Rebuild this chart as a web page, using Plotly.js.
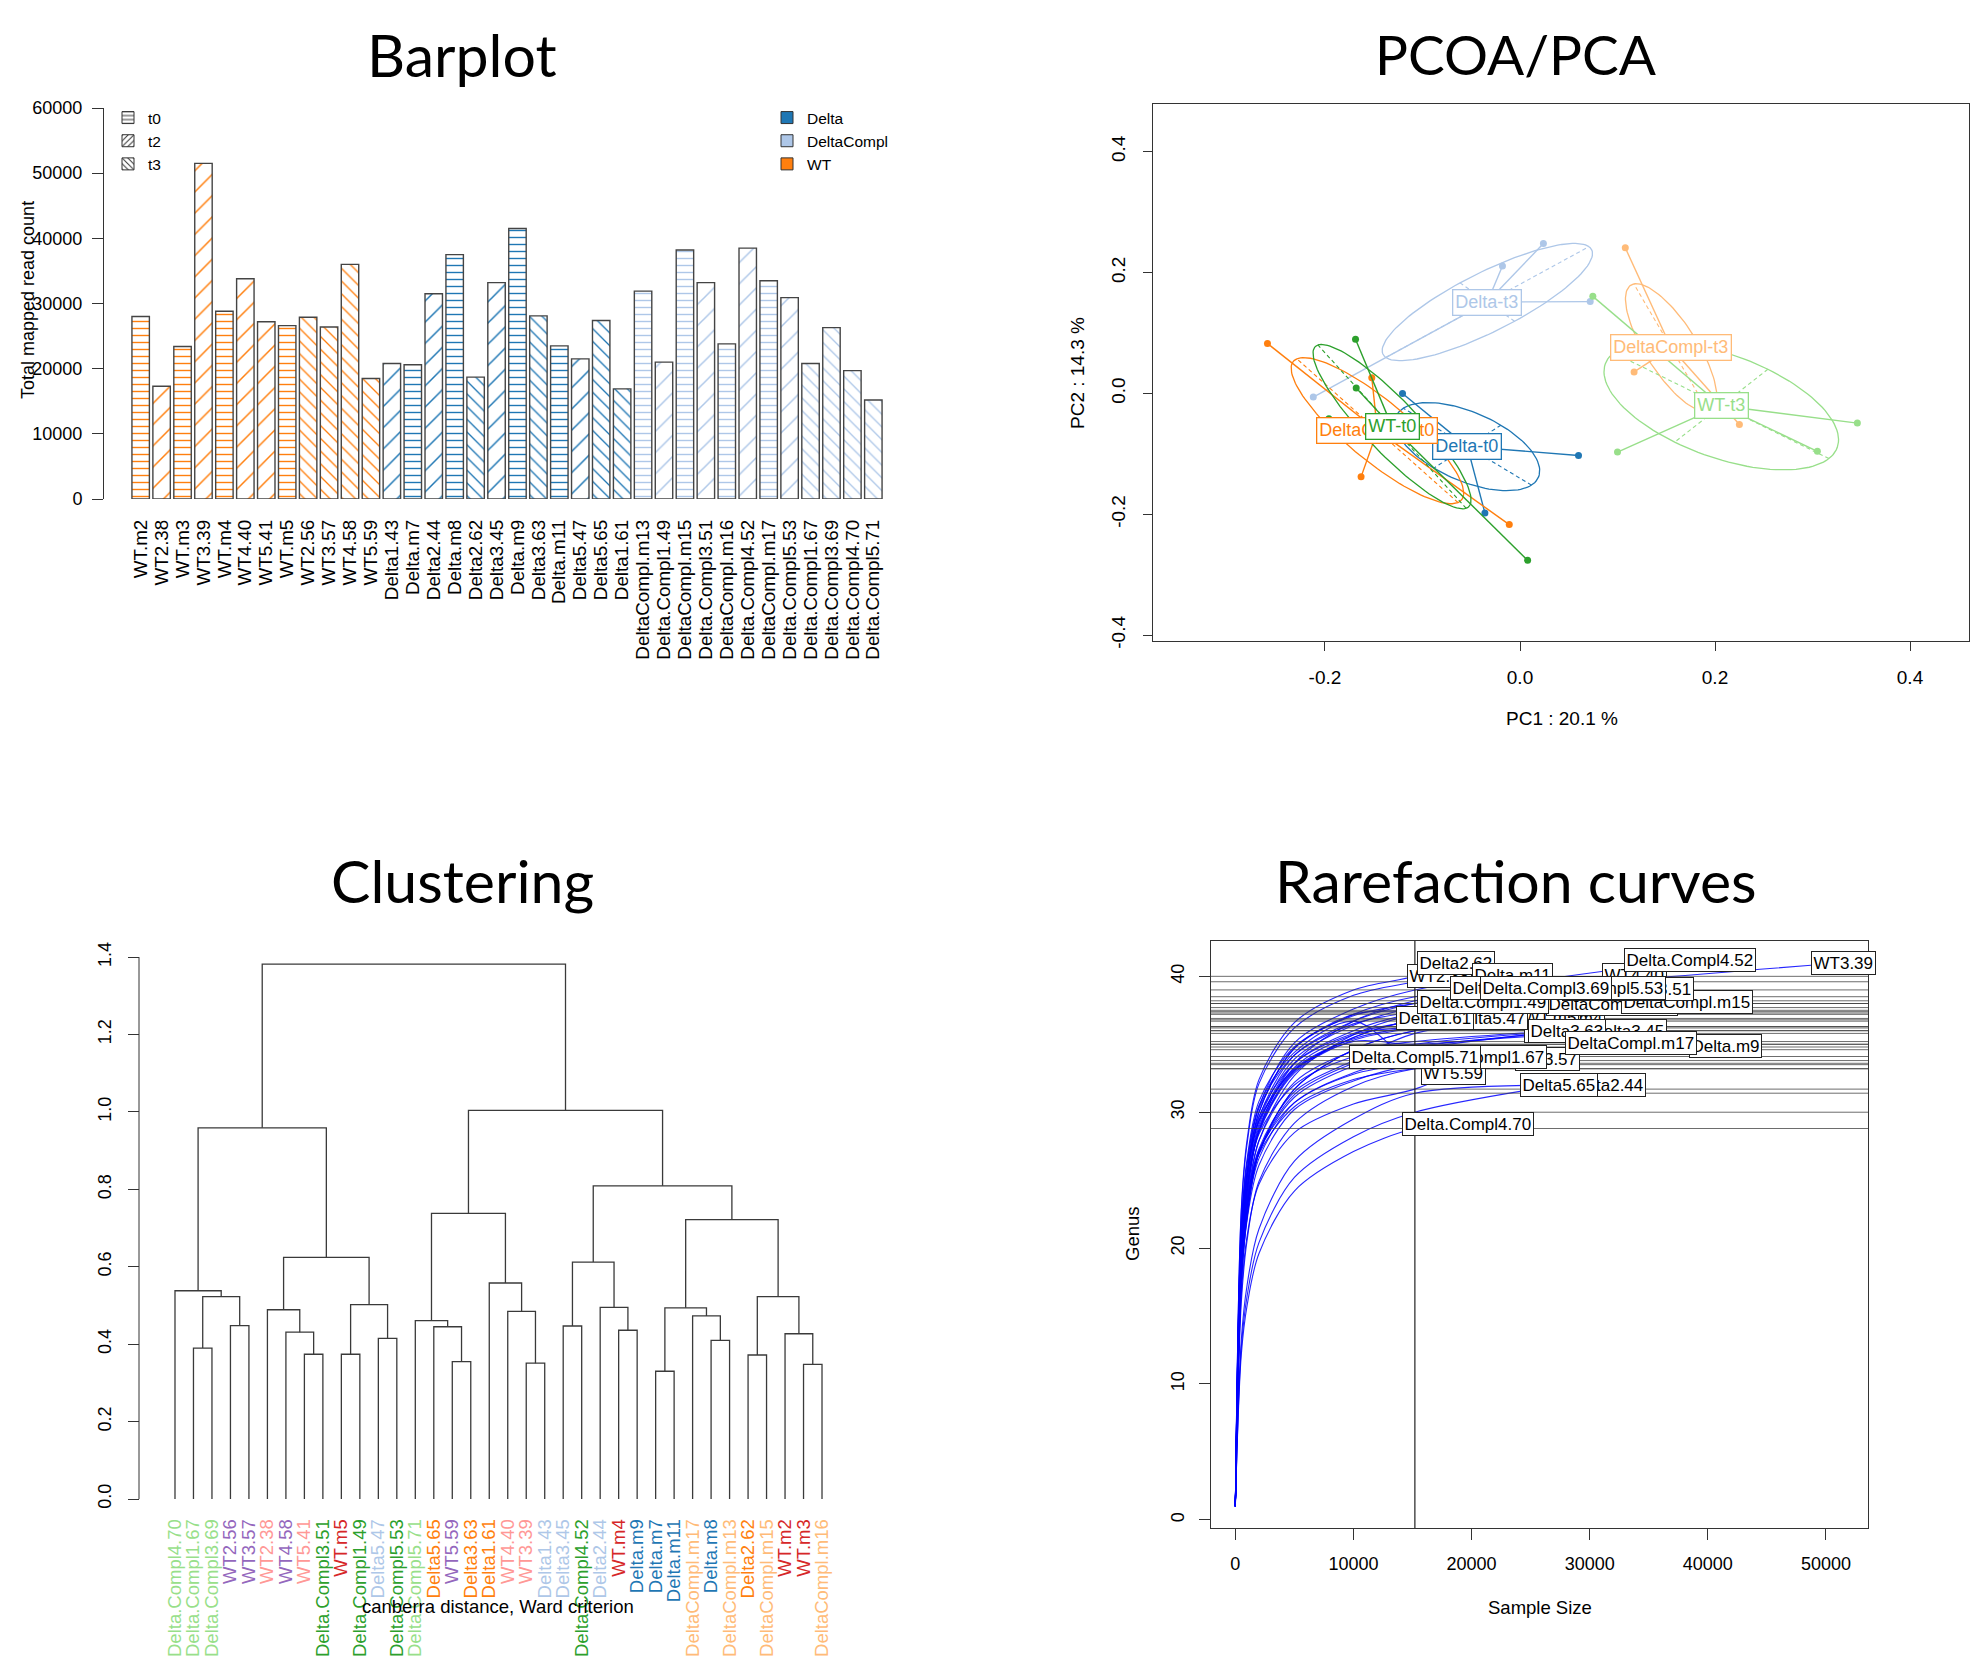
<!DOCTYPE html>
<html><head><meta charset="utf-8">
<script src="https://cdn.plot.ly/plotly-3.0.1.min.js"></script>
<style>html,body{margin:0;padding:0;background:#fff}#chart{width:1972px;height:1660px}</style>
</head><body><div id="chart"></div>
<script>
// ---------------- DATA ----------------
const sampleNames = ['WT.m2','WT2.38','WT.m3','WT3.39','WT.m4','WT4.40','WT5.41','WT.m5','WT2.56','WT3.57','WT4.58','WT5.59',
 'Delta1.43','Delta.m7','Delta2.44','Delta.m8','Delta2.62','Delta3.45','Delta.m9','Delta3.63','Delta.m11','Delta5.47','Delta5.65','Delta1.61',
 'DeltaCompl.m13','Delta.Compl1.49','DeltaCompl.m15','Delta.Compl3.51','DeltaCompl.m16','Delta.Compl4.52','DeltaCompl.m17','Delta.Compl5.53','Delta.Compl1.67','Delta.Compl3.69','Delta.Compl4.70','Delta.Compl5.71'];
const sampleGroup = ['WT','WT','WT','WT','WT','WT','WT','WT','WT','WT','WT','WT',
 'Delta','Delta','Delta','Delta','Delta','Delta','Delta','Delta','Delta','Delta','Delta','Delta',
 'DeltaCompl','DeltaCompl','DeltaCompl','DeltaCompl','DeltaCompl','DeltaCompl','DeltaCompl','DeltaCompl','DeltaCompl','DeltaCompl','DeltaCompl','DeltaCompl'];
const sampleTime = ['t0','t2','t0','t2','t0','t2','t2','t0','t3','t3','t3','t3',
 't2','t0','t2','t0','t3','t2','t0','t3','t0','t2','t3','t3',
 't0','t2','t0','t2','t0','t2','t0','t2','t3','t3','t3','t3'];
const readCounts = [28000,17300,23400,51500,28800,33800,27200,26600,27900,26400,36000,18500,
 20800,20600,31500,37500,18700,33200,41500,28100,23500,21500,27400,16900,
 31900,21000,38200,33200,23800,38500,33500,30900,20800,26300,19700,15200];
const barYTicks = [0,10000,20000,30000,40000,50000,60000];
const timeLevels = ['t0','t2','t3'];
const groupLevels = ['Delta','DeltaCompl','WT'];

// PCA (s.class) points
const pcaGroups = ['Delta-t0','Delta-t3','DeltaCompl-t0','DeltaCompl-t3','WT-t0','WT-t3'];
const pcaPointGroup = ['Delta-t0','Delta-t0','Delta-t0','Delta-t0','Delta-t3','Delta-t3','Delta-t3','Delta-t3',
 'DeltaCompl-t0','DeltaCompl-t0','DeltaCompl-t0','DeltaCompl-t0','DeltaCompl-t3','DeltaCompl-t3','DeltaCompl-t3','DeltaCompl-t3',
 'WT-t0','WT-t0','WT-t0','WT-t0','WT-t3','WT-t3','WT-t3','WT-t3'];
const pcaPC1 = [-0.1205,0.060,-0.036,-0.1195, 0.024,-0.018,0.072,-0.212,
 -0.259,-0.152,-0.163,-0.011, 0.108,0.117,0.225,0.170,
 -0.1687,-0.168,-0.196,0.0078, 0.0747,0.100,0.305,0.346];
const pcaPC2 = [0.000,-0.1026,-0.1976,-0.0518, 0.248,0.211,0.152,-0.006,
 0.0827,0.026,-0.138,-0.217, 0.241,0.0356,-0.0513,0.077,
 0.0896,0.0089,-0.042,-0.276, 0.1607,-0.097,-0.0957,-0.049];
const pcaXTicks = [-0.2,0.0,0.2,0.4];
const pcaYTicks = [-0.4,-0.2,0.0,0.2,0.4];

// Dendrogram (hclust style merges, leaves numbered in plotting order)
const leafNames = ['Delta.Compl4.70','Delta.Compl1.67','Delta.Compl3.69','WT2.56','WT3.57','WT2.38','WT4.58','WT5.41','Delta.Compl3.51','WT.m5','Delta.Compl1.49','Delta5.47',
 'Delta.Compl5.53','Delta.Compl5.71','Delta5.65','WT5.59','Delta3.63','Delta1.61','WT4.40','WT3.39','Delta1.43','Delta3.45','Delta.Compl4.52','Delta2.44',
 'WT.m4','Delta.m9','Delta.m7','Delta.m11','DeltaCompl.m17','Delta.m8','DeltaCompl.m13','Delta2.62','DeltaCompl.m15','WT.m2','WT.m3','DeltaCompl.m16'];
const mergeA = [-2,-4,1,-1,-8,-7,-6,-10,-12,8,7,4,-16,-15,-14,-20,-19,-18,15,-22,-25,-24,20,-27,-30,-29,24,-32,-35,-34,28,27,23,19,12];
const mergeB = [-3,-5,2,3,-9,5,6,-11,-13,9,10,11,-17,13,14,-21,16,17,18,-23,-26,21,22,-28,-31,25,26,-33,-36,29,30,31,32,33,34];
const mergeH = [0.390,0.448,0.523,0.538,0.374,0.431,0.489,0.374,0.415,0.502,0.624,0.959,0.355,0.445,0.461,0.351,0.485,0.558,0.738,
 0.447,0.436,0.495,0.612,0.330,0.410,0.473,0.494,0.372,0.348,0.427,0.523,0.722,0.809,1.004,1.382];
const dendroYTicks = [0,0.2,0.4,0.6,0.8,1.0,1.2,1.4];

// Rarefaction: genus richness read at sub-sample sizes (same sample order as the barplot)
const rareSizes = [1,500,1000,2000,5000,10000,15200];
const rare1 = new Array(36).fill(1);
const rare500 = [19.0,22.6,19.2,19.8,17.3,20.0,18.6,20.7,18.0,18.9,17.9,16.5,21.4,20.0,13.2,18.2,22.8,18.1,15.9,20.0,20.3,20.6,12.6,20.9,19.1,21.3,17.3,19.4,19.0,18.3,17.4,19.6,19.2,21.7,12.1,17.7];
const rare1000 = [24.1,27.7,24.4,25.1,22.3,25.4,23.6,25.4,22.8,23.2,23.1,20.9,26.3,25.4,17.3,23.1,28.0,23.0,20.6,24.5,25.7,25.3,16.5,25.7,24.3,26.2,22.3,24.6,24.1,23.7,22.1,24.9,23.5,26.6,15.8,22.5];
const rare2000 = [28.5,32.1,28.9,29.6,27.0,30.0,27.9,29.4,27.0,26.9,27.9,24.7,30.5,30.0,21.4,27.3,32.4,27.1,24.9,28.4,30.4,29.3,20.4,29.7,28.7,30.3,27.0,29.1,28.6,28.7,26.1,29.4,27.2,30.8,19.6,26.6];
const rare5000 = [32.9,36.2,33.3,34.2,31.7,34.7,32.2,33.2,31.1,30.4,32.7,28.5,34.4,34.7,26.4,31.5,36.6,31.3,29.2,32.0,35.1,33.1,25.2,33.6,33.1,34.2,31.7,33.6,33.0,33.6,30.2,33.9,30.7,34.8,24.2,30.7];
const rare10000 = [35.2,38.6,35.7,36.7,34.6,37.2,34.5,35.4,33.4,32.4,35.7,30.6,36.7,37.2,29.5,33.8,39.0,33.6,31.9,34.1,37.6,35.3,28.2,35.8,35.5,36.5,34.6,36.0,35.5,36.7,32.3,36.4,32.8,37.1,27.1,32.9];
const rare15200 = [35.0,39.6,36.3,38.0,36.0,38.5,35.2,36.3,34.6,33.2,37.2,31.7,33.8,37.5,31.4,35.8,40.0,34.8,33.2,35.0,39.0,36.2,30.0,36.7,36.8,37.4,36.0,37.3,36.9,38.2,33.5,37.7,33.6,38.0,28.8,34.1];
const rareFinal = [36.0,40.0,36.9,41.0,36.9,40.1,36.0,37.0,36.0,33.9,39.0,32.9,34.1,38.1,32.0,38.1,41.0,36.0,34.9,36.0,40.1,36.9,32.0,36.9,38.0,38.1,38.1,39.1,39.15,41.2,35.1,39.15,34.1,39.15,29.15,34.1];
const rareSubsample = 15200;
const rareXTicks = [0,10000,20000,30000,40000,50000];
const rareYTicks = [0,10,20,30,40];

// ---------------- STYLE ----------------
const W = 1972, H = 1660;
const px = v => v / W, py = v => 1 - v / H;
const FONT = 'Liberation Sans, Arial, sans-serif';
const AX = '#333';
const groupColor = {Delta:'#1f77b4', DeltaCompl:'#aec7e8', WT:'#ff7f0e'};
const timeShape = {t0:'-', t2:'/', t3:'\\'};
const timeSize = {t0:7, t2:15, t3:9};
const timeSolid = {t0:0.2, t2:0.1, t3:0.15};
const pcaColor = {'Delta-t0':'#1f77b4','Delta-t3':'#aec7e8','DeltaCompl-t0':'#ff7f0e','DeltaCompl-t3':'#ffbb78','WT-t0':'#2ca02c','WT-t3':'#98df8a'};
const leafColor = {'Delta-t0':'#1f77b4','Delta-t2':'#aec7e8','Delta-t3':'#ff7f0e','DeltaCompl-t0':'#ffbb78','DeltaCompl-t2':'#2ca02c','DeltaCompl-t3':'#98df8a',
  'WT-t0':'#d62728','WT-t2':'#ff9896','WT-t3':'#9467bd'};

const traces = [];
const annotations = [];
const shapes = [];

// ---------------- BARPLOT ----------------
traces.push({
  type:'bar', x: sampleNames, y: readCounts, xaxis:'x', yaxis:'y', showlegend:false, hoverinfo:'skip',
  marker:{color:'white', line:{color:'#444', width:1.4},
    pattern:{shape: sampleTime.map(t=>timeShape[t]), fgcolor: sampleGroup.map(g=>groupColor[g]),
      size: sampleTime.map(t=>timeSize[t]), solidity: sampleTime.map(t=>timeSolid[t]), fillmode:'replace'}}
});
timeLevels.forEach(t => traces.push({type:'bar', x:[null], y:[null], xaxis:'x', yaxis:'y', name:t, legend:'legend',
  marker:{color:'white', line:{color:'#333', width:1}, pattern:{shape:timeShape[t], fgcolor:'#333', size:5, solidity:0.25}}}));
groupLevels.forEach(g => traces.push({type:'bar', x:[null], y:[null], xaxis:'x', yaxis:'y', name:g, legend:'legend2',
  marker:{color:groupColor[g], line:{color:'#333', width:1}}}));

// ---------------- PCA ----------------
pcaGroups.forEach(g => {
  const xs = [], ys = [];
  pcaPointGroup.forEach((pg,i) => { if (pg === g) { xs.push(pcaPC1[i]); ys.push(pcaPC2[i]); } });
  const n = xs.length;
  const mx = xs.reduce((a,b)=>a+b,0)/n, my = ys.reduce((a,b)=>a+b,0)/n;
  let sxx=0, syy=0, sxy=0;
  for (let i=0;i<n;i++){ sxx+=(xs[i]-mx)**2; syy+=(ys[i]-my)**2; sxy+=(xs[i]-mx)*(ys[i]-my); }
  sxx/=n; syy/=n; sxy/=n;
  const tr = sxx+syy, det = sxx*syy-sxy*sxy, disc = Math.sqrt(Math.max(tr*tr/4-det,0));
  const l1 = tr/2+disc, l2 = Math.max(tr/2-disc,0);
  const ang = Math.atan2(l1-sxx, sxy);
  const a = Math.sqrt(l1), b = Math.sqrt(l2);
  const ux=a*Math.cos(ang), uy=a*Math.sin(ang), vx=-b*Math.sin(ang), vy=b*Math.cos(ang);
  const ex=[], ey=[];
  for (let k=0;k<=120;k++){ const t=2*Math.PI*k/120; ex.push(mx+ux*Math.cos(t)+vx*Math.sin(t)); ey.push(my+uy*Math.cos(t)+vy*Math.sin(t)); }
  const c = pcaColor[g];
  traces.push({type:'scatter', mode:'lines', x:ex, y:ey, xaxis:'x2', yaxis:'y2', showlegend:false, hoverinfo:'skip', line:{color:c, width:1.3}});
  traces.push({type:'scatter', mode:'lines', x:[mx-ux,mx+ux,null,mx-vx,mx+vx], y:[my-uy,my+uy,null,my-vy,my+vy], xaxis:'x2', yaxis:'y2',
    showlegend:false, hoverinfo:'skip', line:{color:c, width:1.1, dash:'4px,3px'}});
  const sx=[], sy=[];
  for (let i=0;i<n;i++){ sx.push(xs[i], mx, null); sy.push(ys[i], my, null); }
  traces.push({type:'scatter', mode:'lines', x:sx, y:sy, xaxis:'x2', yaxis:'y2', showlegend:false, hoverinfo:'skip', line:{color:c, width:1.4}});
  traces.push({type:'scatter', mode:'markers', x:xs, y:ys, xaxis:'x2', yaxis:'y2', showlegend:false, hoverinfo:'skip', marker:{color:c, size:7}});
  annotations.push({xref:'x2', yref:'y2', x:mx, y:my, text:g, showarrow:false, font:{family:FONT, size:18, color:c},
    bgcolor:'white', bordercolor:c, borderwidth:1.3, borderpad:2});
});

// ---------------- DENDROGRAM ----------------
{
  const nodeX = [], nodeH = [];
  const pos = k => k < 0 ? [-k, 0] : [nodeX[k-1], nodeH[k-1]];
  const dx = [], dy = [];
  for (let i=0;i<mergeA.length;i++){
    const [x1,h1] = pos(mergeA[i]), [x2,h2] = pos(mergeB[i]), h = mergeH[i];
    nodeX.push((x1+x2)/2); nodeH.push(h);
    dx.push(x1,x1,x2,x2,null); dy.push(h1,h,h,h2,null);
  }
  traces.push({type:'scatter', mode:'lines', x:dx, y:dy, xaxis:'x3', yaxis:'y3', showlegend:false, hoverinfo:'skip', line:{color:'#3a3a3a', width:1.3}});
}
const leafTickText = leafNames.map(nm => {
  const i = sampleNames.indexOf(nm);
  return '<span style="color:' + leafColor[sampleGroup[i] + '-' + sampleTime[i]] + '">' + nm + '</span>';
});

// ---------------- RAREFACTION ----------------
rareFinal.forEach((s,i) => {
  const xs = rareSizes.slice(), ys = [rare1[i],rare500[i],rare1000[i],rare2000[i],rare5000[i],rare10000[i],rare15200[i]];
  if (readCounts[i] > rareSubsample) { xs.push(readCounts[i]); ys.push(s); }
  traces.push({type:'scatter', mode:'lines', x:xs, y:ys, xaxis:'x4', yaxis:'y4', showlegend:false, hoverinfo:'skip',
    line:{color:'rgba(0,0,255,0.85)', width:1.1, shape:'spline', smoothing:0.9}});
});
rare15200.forEach(v => shapes.push({type:'line', xref:'x4 domain', yref:'y4', x0:0, x1:1, y0:v, y1:v, line:{color:'rgba(60,60,60,0.75)', width:1}}));
shapes.push({type:'line', xref:'x4', yref:'y4 domain', x0:rareSubsample, x1:rareSubsample, y0:0, y1:1, line:{color:'#222', width:1.2}});
sampleNames.forEach((nm,i) => annotations.push({xref:'x4', yref:'y4', x:readCounts[i], y:rareFinal[i], text:nm, showarrow:false,
  font:{family:FONT, size:17, color:'#000'}, bgcolor:'white', bordercolor:'#222', borderwidth:1, borderpad:1.5}));

// dendrogram y axis line (only between first and last tick)
shapes.push({type:'line', xref:'paper', yref:'y3', x0:px(139), x1:px(139), y0:0, y1:1.4, line:{color:AX, width:1}});

// ---------------- TITLES ----------------
const T = (txt, x, y, s) => ({xref:'paper', yref:'paper', x:px(x), y:py(y), text:txt, showarrow:false, xanchor:'center', yanchor:'middle',
  font:{family:'Lato, Open Sans, sans-serif', size:s, color:'#000'}});
annotations.push(T('Barplot',462,54,59), T('PCOA/PCA',1516,54,55), T('Clustering',462,880,59), T('Rarefaction curves',1516,880,59));
const A = (txt, x, y, ang, size) => ({xref:'paper', yref:'paper', x:px(x), y:py(y), text:txt, showarrow:false, xanchor:'center', yanchor:'middle',
  textangle:ang, font:{family:FONT, size:size, color:'#000'}});
annotations.push(A('Total mapped read count',28,300,-90,18), A('PC1 : 20.1 %',1562,718,0,19), A('PC2 : 14.3 %',1077,373,-90,19),
  A('canberra distance, Ward criterion',498,1606,0,18.5), A('Sample Size',1540,1607,0,18.5), A('Genus',1132,1234,-90,18.5));

// ---------------- LAYOUT ----------------
const base = {showgrid:false, zeroline:false, tickfont:{family:FONT, size:18, color:'#000'}, linecolor:AX, tickcolor:AX, linewidth:1, tickwidth:1};
const fmt = v => v.toFixed(1);
const layout = {
  width:W, height:H, margin:{l:0,r:0,t:0,b:0}, paper_bgcolor:'#fff', plot_bgcolor:'rgba(0,0,0,0)',
  font:{family:FONT, size:18, color:'#000'}, hovermode:false, showlegend:true, barmode:'overlay', bargap:0.1667,
  xaxis: Object.assign({}, base, {domain:[px(130.2), px(883.8)], range:[-0.5,35.5], anchor:'y', type:'category', showline:false, ticks:'',
    tickmode:'array', tickvals:sampleNames, ticktext:sampleNames,
    tickangle:-90, ticklabelstandoff:16, tickfont:{family:FONT, size:18.8, color:'#000'}}),
  yaxis: Object.assign({}, base, {domain:[py(499), py(108)], range:[0,60000], anchor:'free', position:px(103), showline:true,
    ticks:'outside', ticklen:11, tickvals:barYTicks, ticktext:barYTicks.map(String), ticklabelstandoff:6}),
  xaxis2: Object.assign({}, base, {domain:[px(1153), px(1969)], range:[-0.3764,0.4605], anchor:'y2', showline:true, mirror:true,
    ticks:'outside', ticklen:9, tickvals:pcaXTicks, ticktext:pcaXTicks.map(fmt), tickfont:{family:FONT, size:19, color:'#000'}, ticklabelstandoff:10}),
  yaxis2: Object.assign({}, base, {domain:[py(641), py(104)], range:[-0.4096,0.479], anchor:'x2', showline:true, mirror:true,
    ticks:'outside', ticklen:9, tickvals:pcaYTicks, ticktext:pcaYTicks.map(fmt), tickangle:-90, tickfont:{family:FONT, size:19, color:'#000'}, ticklabelstandoff:10}),
  xaxis3: Object.assign({}, base, {domain:[px(156.5), px(840.5)], range:[0,37], anchor:'y3', showline:false, ticks:'',
    tickmode:'array', tickvals:leafNames.map((_,i)=>i+1), ticktext:leafTickText, tickangle:-90, tickfont:{family:FONT, size:18.5, color:'#000'}, ticklabelstandoff:0}),
  yaxis3: Object.assign({}, base, {domain:[py(1514.5), py(941.6)], range:[-0.04,1.44], anchor:'free', position:px(139), showline:false,
    ticks:'outside', ticklen:11, tickvals:dendroYTicks, ticktext:dendroYTicks.map(fmt), tickangle:-90, ticklabelstandoff:10}),
  xaxis4: Object.assign({}, base, {domain:[px(1211), px(1868)], range:[-2060,53560], anchor:'y4', showline:true, mirror:true,
    ticks:'outside', ticklen:11, tickvals:rareXTicks, ticktext:rareXTicks.map(String), ticklabelstandoff:8}),
  yaxis4: Object.assign({}, base, {domain:[py(1528), py(941)], range:[-0.6,42.6], anchor:'x4', showline:true, mirror:true,
    ticks:'outside', ticklen:11, tickvals:rareYTicks, ticktext:rareYTicks.map(String), tickangle:-90, ticklabelstandoff:8}),
  legend:{x:px(108), y:py(101), xanchor:'left', yanchor:'top', bgcolor:'rgba(0,0,0,0)', font:{family:FONT, size:15.5, color:'#000'}, tracegroupgap:0, itemwidth:30},
  legend2:{x:px(767), y:py(101), xanchor:'left', yanchor:'top', bgcolor:'rgba(0,0,0,0)', font:{family:FONT, size:15.5, color:'#000'}, tracegroupgap:0, itemwidth:30},
  annotations: annotations, shapes: shapes
};
Plotly.newPlot('chart', traces, layout, {staticPlot:true, displayModeBar:false});
</script>
</body></html>
